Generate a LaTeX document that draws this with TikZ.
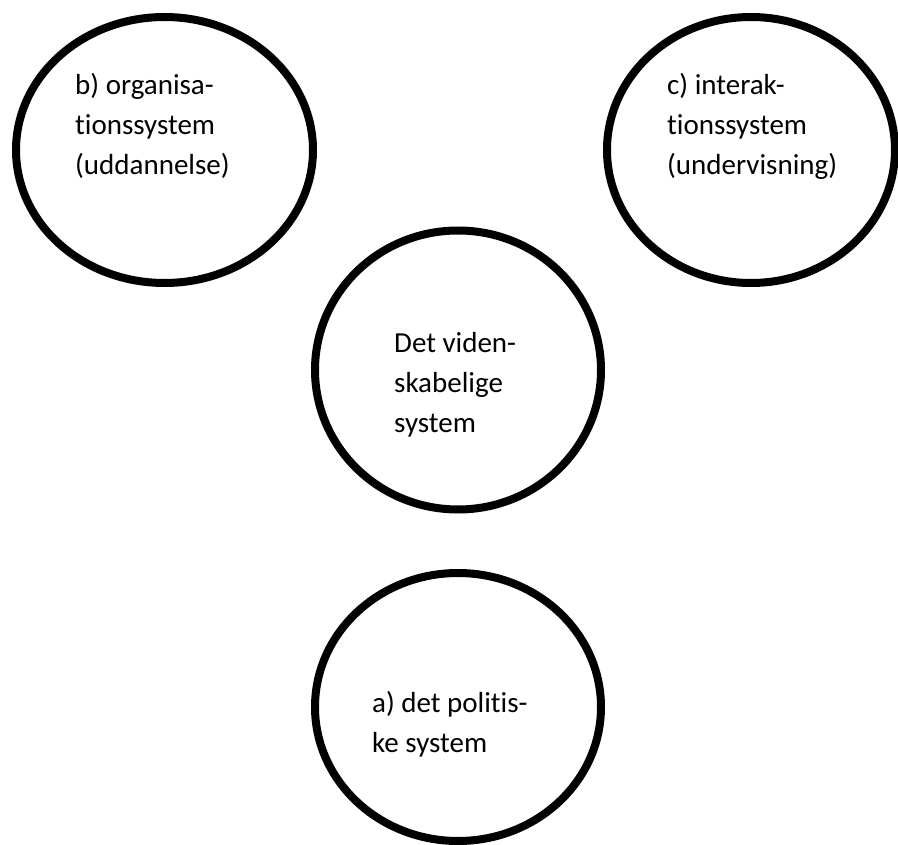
\documentclass[tikz,border=0pt]{standalone}
\usepackage{fontspec}
\setmainfont{Carlito}[Ligatures=NoCommon]
\usetikzlibrary{shapes.geometric,calc}

\tikzset{
	sys/.style={draw, ellipse, line width=8pt, inner sep=0pt},
	systxt/.style={anchor=base west, align=left, inner sep=0pt,
		font=\fontsize{29}{40}\selectfont}
}

\begin{document}
\begin{tikzpicture}[x=1pt,y=-1pt]
\useasboundingbox (0,0) rectangle (898,845);

\node[sys, minimum width=297pt, minimum height=266pt] (org) at (164.5,150) {};
\node[sys, minimum width=288pt, minimum height=266pt] (inter) at (751,150) {};
\node[sys, minimum width=286pt, minimum height=279pt] (viden) at (458,370) {};
\node[sys, minimum width=286pt, minimum height=268pt] (pol) at (458,707) {};

\node[systxt] (orgtxt) at ($(org)+(-89.5,25)$) {b) organisa-\\tionssystem\\(uddannelse)};
\node[systxt] (intertxt) at ($(inter)+(-84,25)$) {c) interak-\\tionssystem\\(undervisning)};
\node[systxt] (videntxt) at ($(viden)+(-64,62)$) {Det viden-\\skabelige\\system};
\node[systxt] (poltxt) at ($(pol)+(-86,45)$) {a) det politis-\\ke system};
\end{tikzpicture}
\end{document}
